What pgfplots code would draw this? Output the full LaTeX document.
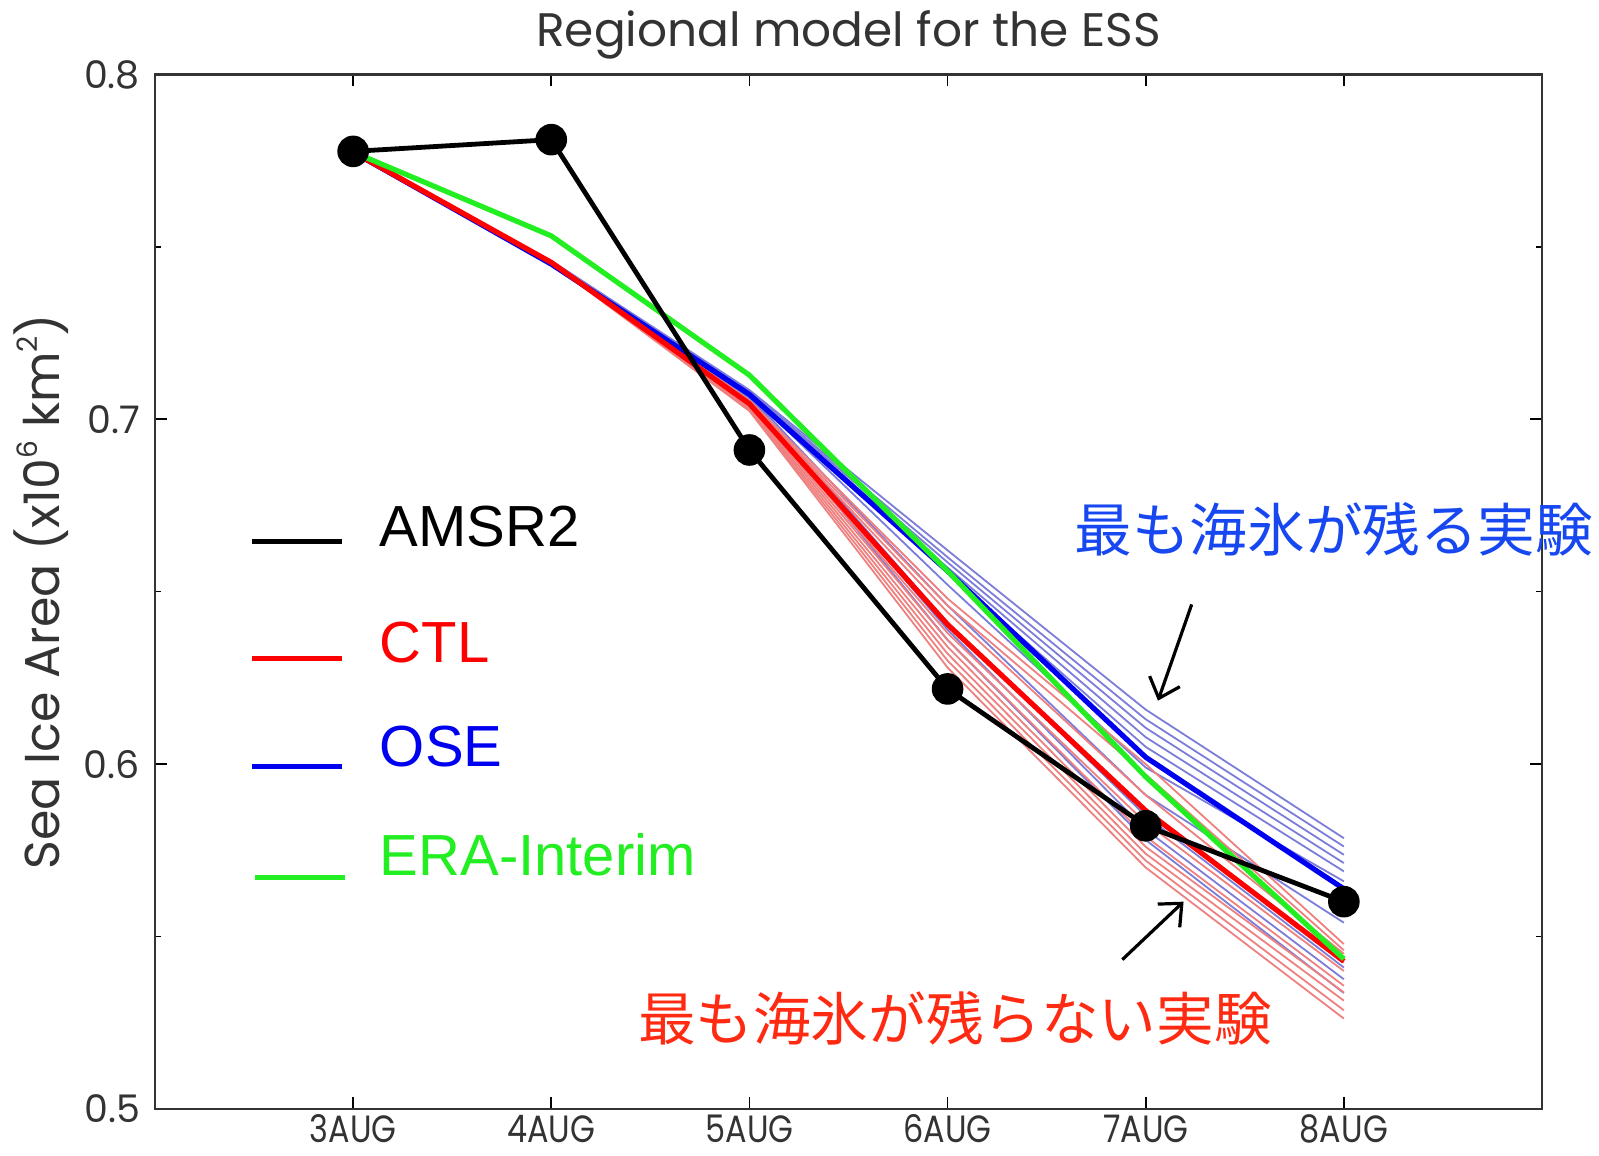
\documentclass[border=0pt]{standalone}
\usepackage{pgfplots}
\pgfplotsset{compat=1.18}
\usepackage{fontspec}
\setmainfont{Liberation Sans}
\newfontfamily\gfont{Poppins}
\newfontfamily\gfontc[FakeStretch=0.84]{Poppins}
\newfontfamily\cjk{Noto Sans CJK JP}
\usetikzlibrary{arrows.meta}
\definecolor{tickgray}{HTML}{333333}
\definecolor{ctlred}{HTML}{FF0000}
\definecolor{oseblue}{HTML}{0000F0}
\definecolor{eragreen}{HTML}{22EE22}
\definecolor{thinblue}{HTML}{7C7CDA}
\definecolor{thinred}{HTML}{EE8080}
\definecolor{jpblue}{HTML}{1747F0}
\definecolor{jpred}{HTML}{FF2A12}
\begin{document}
\begin{tikzpicture}
\begin{axis}[
  scale only axis, width=693.5pt, height=517.2pt,
  xmin=2, xmax=9, ymin=0.5, ymax=0.8,
  xtick={3,4,5,6,7,8}, xticklabels={3AUG,4AUG,5AUG,6AUG,7AUG,8AUG},
  ytick={0.5,0.6,0.7,0.8}, yticklabels={0.5,0.6,0.7,0.8},
  minor ytick={0.55,0.65,0.75},
  tick align=inside, major tick length=6pt, minor tick length=3pt,
  every tick/.style={black, line width=0.8pt},
  axis line style={line width=1.2pt, black!80},
  /pgf/number format/assume math mode=true,
  yticklabel style={xshift=-4pt, font=\gfont\fontsize{19}{21}\selectfont, text=tickgray},
  xticklabel style={anchor=base, yshift=-17pt, inner sep=0pt, text depth=0pt,
    font=\gfontc\fontsize{19}{21}\selectfont, text=tickgray},
  title={Regional model for the ESS},
  title style={at={(axis description cs:0.5,1.0158)}, anchor=base, yshift=0pt,
    inner sep=0pt, text depth=0pt,
    font=\gfont\fontsize{23.5}{26}\selectfont, text=tickgray},
  ylabel={Sea Ice Area (x10\raisebox{0.8ex}{\fontsize{14}{14}\selectfont 6} km\raisebox{0.8ex}{\fontsize{14}{14}\selectfont 2})},
  ylabel style={at={(axis description cs:-0.0822,0.5)}, anchor=center,
    font=\gfont\fontsize{24.5}{28}\selectfont, text=tickgray},
  clip=false,
]
% thin OSE members
\addplot[thinblue, line width=0.9pt] coordinates {(3,0.777) (4,0.7460) (5,0.7085) (6,0.6620) (7,0.6158) (8,0.5785)};
\addplot[thinblue, line width=0.9pt] coordinates {(3,0.777) (4,0.7459) (5,0.7082) (6,0.6600) (7,0.6130) (8,0.5761)};
\addplot[thinblue, line width=0.9pt] coordinates {(3,0.777) (4,0.7458) (5,0.7080) (6,0.6585) (7,0.6105) (8,0.5737)};
\addplot[thinblue, line width=0.9pt] coordinates {(3,0.777) (4,0.7457) (5,0.7078) (6,0.6570) (7,0.6078) (8,0.5713)};
\addplot[thinblue, line width=0.9pt] coordinates {(3,0.777) (4,0.7456) (5,0.7075) (6,0.6555) (7,0.6050) (8,0.5689)};
\addplot[thinblue, line width=0.9pt] coordinates {(3,0.777) (4,0.7455) (5,0.7072) (6,0.6520) (7,0.5990) (8,0.5660)};
\addplot[thinblue, line width=0.9pt] coordinates {(3,0.777) (4,0.7454) (5,0.7068) (6,0.6460) (7,0.5910) (8,0.5540)};
\addplot[thinblue, line width=0.9pt] coordinates {(3,0.777) (4,0.7453) (5,0.7065) (6,0.6410) (7,0.5850) (8,0.5410)};
\addplot[thinblue, line width=0.9pt] coordinates {(3,0.777) (4,0.7452) (5,0.7062) (6,0.6390) (7,0.5810) (8,0.5376)};
\addplot[thinblue, line width=0.9pt] coordinates {(3,0.777) (4,0.7451) (5,0.7060) (6,0.6360) (7,0.5780) (8,0.5336)};
% thin CTL members
\addplot[thinred, line width=0.9pt] coordinates {(3,0.777) (4,0.7458) (5,0.7055) (6,0.6480) (7,0.6000) (8,0.5478)};
\addplot[thinred, line width=0.9pt] coordinates {(3,0.777) (4,0.7457) (5,0.7052) (6,0.6460) (7,0.5970) (8,0.5460)};
\addplot[thinred, line width=0.9pt] coordinates {(3,0.777) (4,0.7456) (5,0.7050) (6,0.6440) (7,0.5910) (8,0.5450)};
\addplot[thinred, line width=0.9pt] coordinates {(3,0.777) (4,0.7456) (5,0.7046) (6,0.6410) (7,0.5860) (8,0.5425)};
\addplot[thinred, line width=0.9pt] coordinates {(3,0.777) (4,0.7455) (5,0.7043) (6,0.6380) (7,0.5830) (8,0.5400)};
\addplot[thinred, line width=0.9pt] coordinates {(3,0.777) (4,0.7455) (5,0.7040) (6,0.6360) (7,0.5790) (8,0.5357)};
\addplot[thinred, line width=0.9pt] coordinates {(3,0.777) (4,0.7454) (5,0.7036) (6,0.6340) (7,0.5760) (8,0.5338)};
\addplot[thinred, line width=0.9pt] coordinates {(3,0.777) (4,0.7454) (5,0.7032) (6,0.6320) (7,0.5740) (8,0.5314)};
\addplot[thinred, line width=0.9pt] coordinates {(3,0.777) (4,0.7453) (5,0.7028) (6,0.6300) (7,0.5720) (8,0.5286)};
\addplot[thinred, line width=0.9pt] coordinates {(3,0.777) (4,0.7452) (5,0.7024) (6,0.6280) (7,0.5700) (8,0.5262)};
% OSE mean
\addplot[oseblue, line width=2.6pt] coordinates {(3,0.7775) (4,0.7450) (5,0.7072) (6,0.6560) (7,0.6020) (8,0.5638)};
% CTL mean
\addplot[ctlred, line width=2.6pt] coordinates {(3,0.7775) (4,0.7455) (5,0.7045) (6,0.6405) (7,0.5865) (8,0.5428)};
% ERA-Interim
\addplot[eragreen, line width=2.6pt] coordinates {(3,0.7775) (4,0.7532) (5,0.7128) (6,0.6560) (7,0.5963) (8,0.5435)};
% AMSR2
\addplot[black, line width=2.4pt, mark=*, mark size=6.7pt, mark options={fill=black}] coordinates {(3,0.7777) (4,0.7811) (5,0.6911) (6,0.6218) (7,0.5821) (8,0.5601)};

% legend
\draw[black, line width=2.5pt] (axis cs:2.489,0.6646) -- (axis cs:2.942,0.6646);
\node[anchor=base west, inner sep=0, font=\fontsize{29}{29}\selectfont] at (axis cs:3.133,0.6631) {AMSR2};
\draw[ctlred, line width=2.5pt] (axis cs:2.489,0.6307) -- (axis cs:2.942,0.6307);
\node[anchor=base west, inner sep=0, font=\fontsize{29}{29}\selectfont, text=ctlred] at (axis cs:3.133,0.6296) {CTL};
\draw[oseblue, line width=2.5pt] (axis cs:2.489,0.5992) -- (axis cs:2.942,0.5992);
\node[anchor=base west, inner sep=0, font=\fontsize{29}{29}\selectfont, text=oseblue] at (axis cs:3.133,0.5992) {OSE};
\draw[eragreen, line width=2.5pt] (axis cs:2.505,0.5671) -- (axis cs:2.958,0.5671);
\node[anchor=base west, inner sep=0, font=\fontsize{29}{29}\selectfont, text=eragreen] at (axis cs:3.133,0.5677) {ERA-Interim};

% annotations
\node[anchor=west, inner sep=0, font=\cjk\fontsize{28.8}{30}\selectfont, text=jpblue] at (axis cs:6.640,0.6681) {最も海氷が残る実験};
\node[anchor=west, inner sep=0, font=\cjk\fontsize{28.8}{30}\selectfont, text=jpred] at (axis cs:4.436,0.5262) {最も海氷が残らない実験};
\draw[-{Straight Barb[length=9pt,width=16pt]}, line width=1.6pt] (axis cs:7.232,0.6463) -- (axis cs:7.062,0.6184);
\draw[-{Straight Barb[length=9pt,width=16pt]}, line width=1.6pt] (axis cs:6.882,0.5433) -- (axis cs:7.191,0.5601);
\end{axis}
\pgfresetboundingbox
\useasboundingbox ([shift={(-77.5pt,-23.5pt)}]current axis.south west) rectangle ([shift={(28.5pt,37.25pt)}]current axis.north east);
\end{tikzpicture}
\end{document}
